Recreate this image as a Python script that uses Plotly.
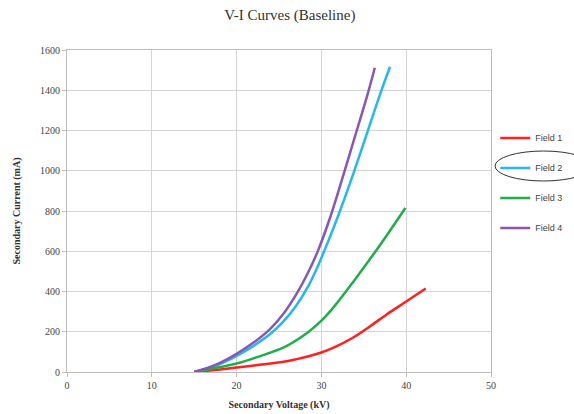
import plotly.graph_objects as go

# Data
f1_v = [15, 17.5, 20, 22.5, 25.7, 27.1, 28.5, 30, 31.5, 33.7, 35.7, 37.7, 40, 42.3]
f1_i = [0, 10, 22, 35, 52, 64, 78, 97, 122, 170, 226, 286, 350, 415]

f2_v = [15, 17.5, 20, 22, 24, 25.5, 27, 28.5, 29.5, 30.4, 31.4, 32.2, 33.9, 35.5, 37.1, 38.1]
f2_i = [0, 30, 80, 130, 190, 250, 328, 430, 518, 608, 713, 801, 1002, 1202, 1402, 1517]

f3_v = [15, 17.5, 20, 22.5, 25.7, 27.1, 28.5, 30, 31.5, 33.7, 36.9, 39.9]
f3_i = [0, 20, 42, 75, 125, 159, 200, 255, 325, 445, 630, 815]

f4_v = [15, 17.5, 20, 22, 24, 25.5, 27, 28.3, 29.6, 31.0, 32.4, 33.9, 35.3, 36.3]
f4_i = [0, 35, 90, 146, 216, 288, 383, 483, 603, 764, 952, 1162, 1358, 1512]

names = ["Field 1", "Field 2", "Field 3", "Field 4"]
colors = ["#ff2020", "#22b8f0", "#1fae4a", "#8a55b5"]

x_ticks = [0, 10, 20, 30, 40, 50]
y_ticks = [0, 200, 400, 600, 800, 1000, 1200, 1400, 1600]

fig = go.Figure()
for name, xs, ys, c in zip(names, [f1_v, f2_v, f3_v, f4_v], [f1_i, f2_i, f3_i, f4_i], colors):
    fig.add_trace(go.Scatter(x=xs, y=ys, mode="lines", name=name, legendgroup=name,
                             line=dict(color=c, width=2.5, shape="spline", smoothing=1.0)))

serif = "Liberation Serif, Times New Roman, serif"
axis_common = dict(showgrid=True, gridcolor="#d4d4d4", gridwidth=1,
                   showline=True, linecolor="#bdbdbd", linewidth=1, mirror=True,
                   zeroline=False, ticks="outside", ticklen=4, tickcolor="#bdbdbd",
                   automargin=False,
                   tickfont=dict(family=serif, size=10, color="#444"))

fig.update_layout(
    width=574, height=414,
    margin=dict(l=67, r=83, t=50, b=42, autoexpand=False),
    paper_bgcolor="white", plot_bgcolor="white",
    title=dict(text="V-I Curves (Baseline)", x=0.505, xanchor="center", y=0.965, yanchor="middle",
               font=dict(family=serif, size=15, color="#333")),
    xaxis=dict(range=[0, 50], tickvals=x_ticks, **axis_common,
               title=dict(text="<b>Secondary Voltage (kV)</b>", standoff=10,
                          font=dict(family=serif, size=10, color="#333"))),
    yaxis=dict(range=[0, 1600], tickvals=y_ticks, **axis_common,
               title=dict(text="<b>Secondary Current (mA)</b>", standoff=17,
                          font=dict(family=serif, size=10, color="#333"))),
    legend=dict(x=1.01, y=0.772, xanchor="left", yanchor="top", tracegroupgap=11,
                itemwidth=30, font=dict(family="Liberation Sans, Arial, sans-serif", size=9, color="#444"),
                bgcolor="rgba(0,0,0,0)"),
    showlegend=True,
)

fig.add_shape(type="circle", xref="paper", yref="paper",
              x0=(495 - 67) / 424, x1=(592 - 67) / 424,
              y0=(372 - 181) / 322, y1=(372 - 151) / 322,
              line=dict(color="#333", width=1))

fig.write_html("out.html", config={"displayModeBar": False},
               post_script="document.body.style.margin='0';document.body.style.padding='0';")
